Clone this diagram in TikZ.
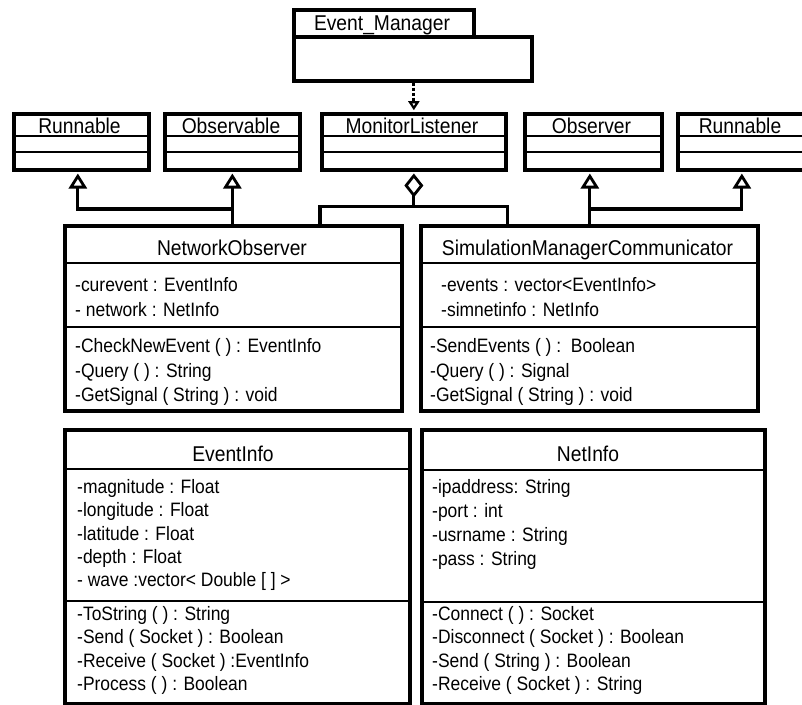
\documentclass[tikz,border=0pt]{standalone}
\usepackage{fontspec}
\setmainfont{Liberation Sans}[FakeStretch=0.9]
\usetikzlibrary{arrows.meta,calc}
\tikzset{
  umlbox/.style={draw, line width=3.7pt, inner sep=0pt, anchor=north west},
  sepline/.style={line width=2.9pt},
  cname/.style={font=\fontsize{21.4}{24}\selectfont, inner sep=0pt, anchor=base},
  member/.style={font=\fontsize{19.4}{22}\selectfont, inner sep=0pt, anchor=base west},
  link/.style={line width=3.2pt},
  gen/.style={link, shorten >=1.8pt, -{Triangle[open, length=15pt, width=18pt, line width=2.8pt]}},
  agg/.style={link, shorten >=1.8pt, -{Diamond[open, length=24pt, width=19pt, line width=2.8pt]}},
  dep/.style={link, dash pattern=on 3pt off 2pt, shorten >=1.8pt,
              -{Triangle[open, length=9pt, width=11pt, line width=2.2pt]}},
}
\begin{document}
\begin{tikzpicture}[x=1pt, y=-1pt]
\clip (0,0) rectangle (802,704);
\fill[white] (0,0) rectangle (802,704);

% Event_Manager: name tab over an empty body
\node[umlbox, minimum width=238pt, minimum height=44pt] (em) at (292,35) {};
\node[umlbox, minimum width=180pt, minimum height=27pt] (emtab) at (292,8) {};
\node[cname] (em-t) at (382,30) {Event\_Manager};

% interface row
\node[umlbox, minimum width=135pt, minimum height=56pt] (run1) at (12,112) {};
\node[umlbox, minimum width=135pt, minimum height=56pt] (obs)  at (163,112) {};
\node[umlbox, minimum width=184pt, minimum height=56pt] (ml)   at (320,112) {};
\node[umlbox, minimum width=137pt, minimum height=56pt] (obsr) at (523,112) {};
\node[umlbox, minimum width=128pt, minimum height=56pt] (run2) at (676,112) {};
\foreach \b in {run1,obs,ml,obsr,run2}{
  \draw[sepline] ($(\b.north west)+(0,24)$) -- ($(\b.north east)+(0,24)$);
  \draw[sepline] ($(\b.north west)+(0,40)$) -- ($(\b.north east)+(0,40)$);
}
\node[cname] (run1-t) at (79.5,133) {Runnable};
\node[cname] (obs-t)  at (231,133) {Observable};
\node[cname] (ml-t)   at (412,133) {MonitorListener};
\node[cname] (obsr-t) at (591.5,133) {Observer};
\node[cname] (run2-t) at (740,133) {Runnable};

% NetworkObserver
\node[umlbox, minimum width=337pt, minimum height=185pt] (netobs) at (63,224) {};
\draw[sepline] (63,263) -- (400,263);
\draw[sepline] (63,327) -- (400,327);
\node[cname] (netobs-t) at (232,255) {NetworkObserver};
\node[member] (no-a1) at (75,291) {-curevent : EventInfo};
\node[member] (no-a2) at (75,316) {- network : NetInfo};
\node[member] (no-o1) at (75,352) {-CheckNewEvent ( ) : EventInfo};
\node[member] (no-o2) at (75,377) {-Query ( ) : String};
\node[member] (no-o3) at (75,401) {-GetSignal ( String ) : void};

% SimulationManagerCommunicator
\node[umlbox, minimum width=337pt, minimum height=185pt] (smc) at (419,224) {};
\draw[sepline] (419,263) -- (756,263);
\draw[sepline] (419,327) -- (756,327);
\node[cname] (smc-t) at (587.5,255) {SimulationManagerCommunicator};
\node[member] (sm-a1) at (441,291) {-events : vector<EventInfo>};
\node[member] (sm-a2) at (441,316) {-simnetinfo : NetInfo};
\node[member] (sm-o1) at (430,352) {-SendEvents ( ) :\ \ Boolean};
\node[member] (sm-o2) at (430,377) {-Query ( ) : Signal};
\node[member] (sm-o3) at (430,401) {-GetSignal ( String ) : void};

% EventInfo
\node[umlbox, minimum width=345pt, minimum height=274pt] (evi) at (63,428) {};
\draw[sepline] (63,469) -- (408,469);
\draw[sepline] (63,601) -- (408,601);
\node[cname] (evi-t) at (233,461) {EventInfo};
\node[member] (ev-a1) at (77,493) {-magnitude : Float};
\node[member] (ev-a2) at (77,516.5) {-longitude : Float};
\node[member] (ev-a3) at (77,540) {-latitude : Float};
\node[member] (ev-a4) at (77,563) {-depth : Float};
\node[member] (ev-a5) at (77,586) {- wave :vector< Double [ ] >};
\node[member] (ev-o1) at (77,620) {-ToString ( ) : String};
\node[member] (ev-o2) at (77,643.5) {-Send ( Socket ) : Boolean};
\node[member] (ev-o3) at (77,667) {-Receive ( Socket ) :EventInfo};
\node[member] (ev-o4) at (77,690) {-Process ( ) : Boolean};

% NetInfo
\node[umlbox, minimum width=343pt, minimum height=274pt] (neti) at (420,428) {};
\draw[sepline] (420,470) -- (763,470);
\draw[sepline] (420,602) -- (763,602);
\node[cname] (neti-t) at (588,461) {NetInfo};
\node[member] (ni-a1) at (432,493) {-ipaddress: String};
\node[member] (ni-a2) at (432,517) {-port : int};
\node[member] (ni-a3) at (432,541) {-usrname : String};
\node[member] (ni-a4) at (432,565) {-pass : String};
\node[member] (ni-o1) at (432,620) {-Connect ( ) : Socket};
\node[member] (ni-o2) at (432,643.5) {-Disconnect ( Socket ) : Boolean};
\node[member] (ni-o3) at (432,667) {-Send ( String ) : Boolean};
\node[member] (ni-o4) at (432,690) {-Receive ( Socket ) : String};

% dependency of MonitorListener on Event_Manager
\draw[dep] (em.south -| ml.north) -- (ml.north);

% generalisations
\coordinate (run1A) at ([xshift=-3.5pt]run1.south);
\coordinate (obsrA) at ([xshift=-3.5pt]obsr.south);
\coordinate (jL) at ($(netobs.north -| obs.south)+(0,-15)$);
\coordinate (jR) at ($(smc.north -| obsrA)+(0,-15)$);
\draw[gen] (netobs.north -| obs.south) -- (obs.south);
\draw[gen] (jL) -| (run1A);
\draw[gen] (smc.north -| obsrA) -- (obsrA);
\draw[gen] (jR) -| (run2.south);

% aggregation into MonitorListener
\coordinate (aggj) at ($(ml.south)+(0,35)$);
\draw[agg] (netobs.north -| ml.west) |- (aggj) -- (ml.south);
\draw[link] (smc.north -| ml.east) |- (aggj);
\end{tikzpicture}
\end{document}
